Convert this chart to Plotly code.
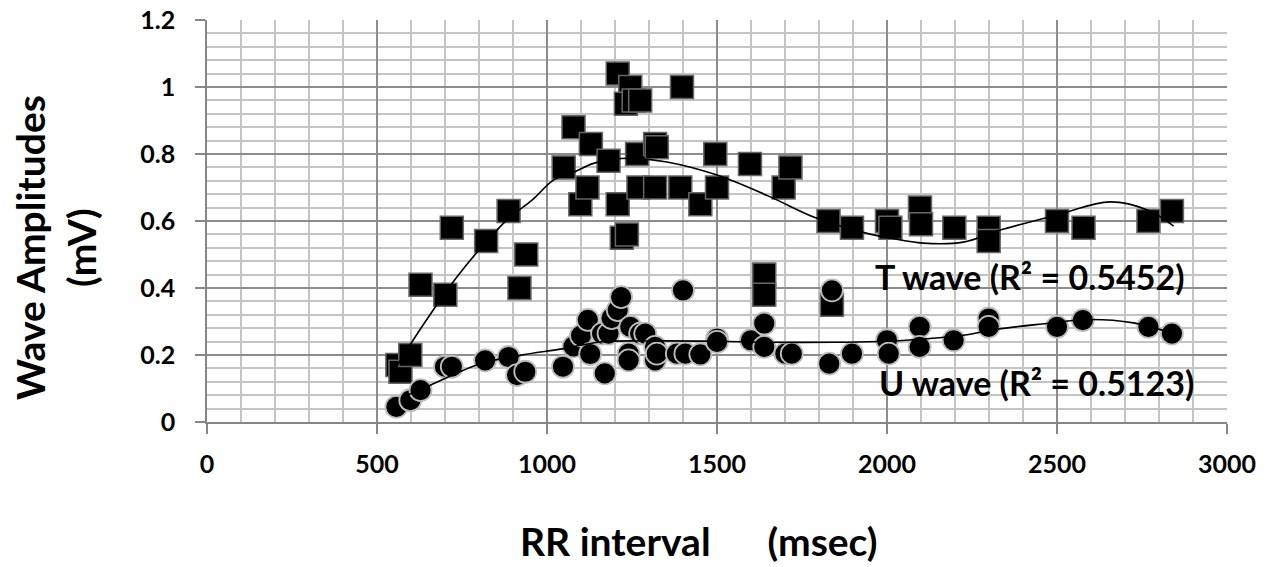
import plotly.graph_objects as go

# ---- data ----
T_x = [560, 569, 598, 628, 701, 720, 821, 887, 919, 939,
       1049, 1078, 1098, 1119, 1129, 1181, 1208, 1208, 1220, 1235,
       1245, 1232, 1255, 1274, 1265, 1269, 1318, 1323, 1318, 1392,
       1397, 1451, 1495, 1500, 1597, 1639, 1639, 1696, 1716, 1828,
       1838, 1897, 2000, 2010, 2097, 2100, 2198, 2299, 2299, 2500,
       2578, 2769, 2838]
T_y = [0.17, 0.15, 0.20, 0.41, 0.38, 0.58, 0.54, 0.63, 0.40, 0.50,
       0.76, 0.88, 0.65, 0.70, 0.83, 0.78, 1.04, 0.65, 0.55, 0.56,
       1.00, 0.95, 0.96, 0.96, 0.80, 0.70, 0.83, 0.82, 0.70, 0.70,
       1.00, 0.65, 0.80, 0.70, 0.77, 0.44, 0.38, 0.70, 0.76, 0.60,
       0.35, 0.58, 0.60, 0.58, 0.64, 0.59, 0.58, 0.58, 0.54, 0.60,
       0.58, 0.60, 0.63]

U_x = [557, 598, 628, 700, 720, 818, 887, 912, 936, 1047,
       1078, 1100, 1120, 1127, 1170, 1162, 1181, 1190, 1208, 1218,
       1245, 1274, 1240, 1240, 1289, 1318, 1318, 1323, 1382, 1407,
       1451, 1400, 1500, 1500, 1600, 1639, 1639, 1701, 1720, 1830,
       1838, 1897, 2000, 2005, 2096, 2096, 2196, 2299, 2299, 2500,
       2576, 2769, 2838]
U_y = [0.045, 0.065, 0.095, 0.165, 0.165, 0.184, 0.194, 0.14, 0.15, 0.165,
       0.226, 0.258, 0.305, 0.203, 0.145, 0.264, 0.264, 0.31, 0.334, 0.373,
       0.284, 0.264, 0.204, 0.184, 0.264, 0.224, 0.184, 0.204, 0.204, 0.204,
       0.202, 0.393, 0.249, 0.239, 0.244, 0.294, 0.224, 0.204, 0.204, 0.174,
       0.393, 0.204, 0.244, 0.204, 0.284, 0.224, 0.244, 0.309, 0.284, 0.284,
       0.304, 0.284, 0.264]

# trend lines
T_trend_x = [560, 593, 672, 735, 804, 887, 956, 1019, 1077, 1137, 1200, 1255,
             1353, 1500, 1650, 1794, 1941, 2009, 2106, 2224, 2333, 2500, 2656,
             2768, 2843]
T_trend_y = [0.17, 0.224, 0.344, 0.433, 0.518, 0.608, 0.662, 0.722, 0.745,
             0.772, 0.785, 0.787, 0.776, 0.737, 0.675, 0.608, 0.563, 0.549,
             0.534, 0.537, 0.573, 0.618, 0.657, 0.632, 0.585]
U_trend_x = [570, 600, 657, 804, 921, 1049, 1156, 1300, 1500, 1647, 1843, 2000,
             2224, 2323, 2470, 2588, 2725, 2838]
U_trend_y = [0.07, 0.085, 0.11, 0.174, 0.199, 0.219, 0.239, 0.242, 0.241,
             0.238, 0.238, 0.241, 0.259, 0.277, 0.294, 0.306, 0.296, 0.265]

x_tickvals = [0, 500, 1000, 1500, 2000, 2500, 3000]
x_ticktext = ["0", "500", "1000", "1500", "2000", "2500", "3000"]
y_tickvals = [0, 0.2, 0.4, 0.6, 0.8, 1.0, 1.2]
y_ticktext = ["0", "0.2", "0.4", "0.6", "0.8", "1", "1.2"]

T_label = "T wave (R² = 0.5452)"
U_label = "U wave (R² = 0.5123)"
x_title = "RR interval" + "\u00a0" * 6 + "(msec)"
y_title = "Wave Amplitudes<br>(mV)"

FONT = "Lato"

fig = go.Figure()
fig.add_trace(go.Scatter(
    x=T_x, y=T_y, mode="markers", name="T wave",
    marker=dict(symbol="square", size=23, color="black",
                line=dict(color="#666666", width=1.5))))
fig.add_trace(go.Scatter(
    x=U_x, y=U_y, mode="markers", name="U wave",
    marker=dict(symbol="circle", size=22, color="black",
                line=dict(color="#bdbdbd", width=1.8))))
fig.add_trace(go.Scatter(
    x=T_trend_x, y=T_trend_y, mode="lines", line=dict(color="black", width=1.6, shape="spline"),
    hoverinfo="skip"))
fig.add_trace(go.Scatter(
    x=U_trend_x, y=U_trend_y, mode="lines", line=dict(color="black", width=1.6, shape="spline"),
    hoverinfo="skip"))

axis_common = dict(
    showline=True, linecolor="#868686", linewidth=1.5,
    ticks="outside", ticklen=10, tickcolor="#868686", tickwidth=1.5,
    showgrid=True, gridcolor="#8c8c8c", gridwidth=1.5,
    zeroline=False, automargin=False, tickmode="array",
    ticklabeloverflow="allow",
    tickfont=dict(family=FONT, size=25, color="black", weight="bold"),
)

fig.update_xaxes(range=[0, 3000], tickvals=x_tickvals, ticktext=x_ticktext,
                 ticklabelstandoff=9,
                 minor=dict(dtick=100, tick0=0, showgrid=True, gridcolor="#c4c4c4", gridwidth=1.5),
                 **axis_common)
fig.update_yaxes(range=[0, 1.2], tickvals=y_tickvals, ticktext=y_ticktext,
                 ticklabelstandoff=15,
                 minor=dict(dtick=0.04, tick0=0, showgrid=True, gridcolor="#c4c4c4", gridwidth=1.5),
                 **axis_common)

ann_font = dict(family=FONT, size=34, color="black", weight="bold")
title_font = dict(family=FONT, size=39, color="black", weight="bold")

# The page body has an 8px margin: the figure starts at page pixel (8, 8).
OFF = 8
PL, PR, PT, PB = 207, 1227, 20, 422  # plot area in page pixels
W, H = 1271 - OFF, 567 - OFF
L, T = PL - OFF, PT - OFF
R, B = 1271 - PR, 567 - PB


def px(xp):
    return (xp - PL) / (PR - PL)


def py(yp):
    return (PB - yp) / (PB - PT)


fig.update_layout(
    width=W, height=H,
    margin=dict(l=L, r=R, t=T, b=B, autoexpand=False),
    paper_bgcolor="white", plot_bgcolor="white",
    showlegend=False,
    annotations=[
        dict(text=T_label, xref="paper", yref="paper", x=px(1029), y=py(276),
             xanchor="center", yanchor="middle", showarrow=False, font=ann_font),
        dict(text=U_label, xref="paper", yref="paper", x=px(1036), y=py(382),
             xanchor="center", yanchor="middle", showarrow=False, font=ann_font),
        dict(text=x_title, xref="paper", yref="paper", x=px(698), y=py(541),
             xanchor="center", yanchor="middle", showarrow=False, font=title_font),
        dict(text=y_title, xref="paper", yref="paper", x=px(55), y=py(248),
             xanchor="center", yanchor="middle", showarrow=False, textangle=-90,
             font=title_font),
    ],
)

fig.write_html("out.html")
